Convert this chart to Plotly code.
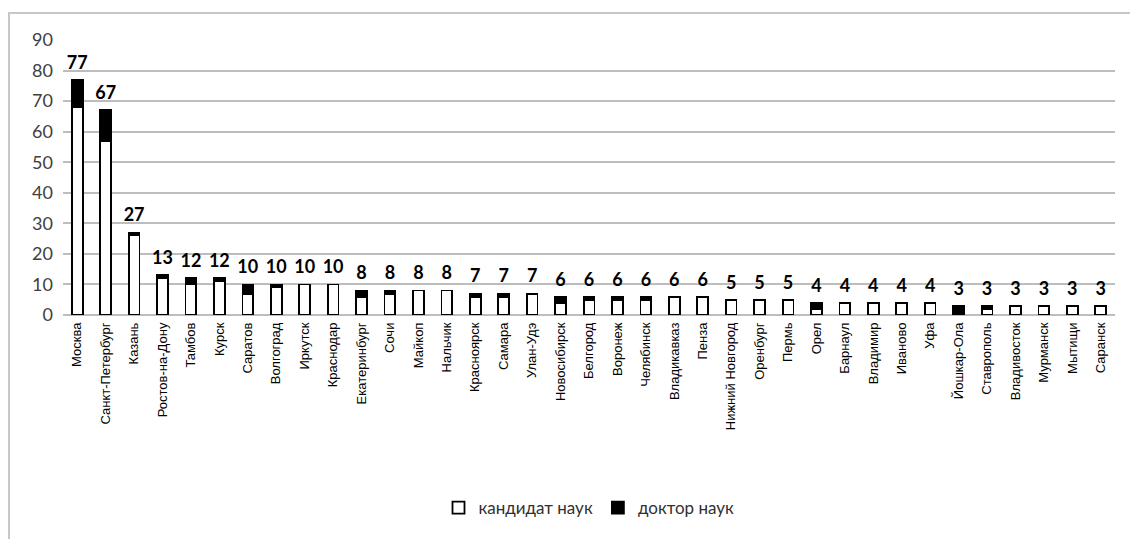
import plotly.graph_objects as go

cities = ["Москва", "Санкт-Петербург", "Казань", "Ростов-на-Дону", "Тамбов", "Курск",
          "Саратов", "Волгоград", "Иркутск", "Краснодар", "Екатеринбург", "Сочи",
          "Майкоп", "Нальчик", "Красноярск", "Самара", "Улан-Удэ", "Новосибирск",
          "Белгород", "Воронеж", "Челябинск", "Владикавказ", "Пенза", "Нижний Новгород",
          "Оренбург", "Пермь", "Орел", "Барнаул", "Владимир", "Иваново", "Уфа",
          "Йошкар-Ола", "Ставрополь", "Владивосток", "Мурманск", "Мытищи", "Саранск"]
candidates = [68, 57, 26, 12, 10, 11, 7, 9, 10, 10, 6, 7, 8, 8, 6, 6, 7, 4,
              5, 5, 5, 6, 6, 5, 5, 5, 2, 4, 4, 4, 4, 0, 2, 3, 3, 3, 3]
doctors = [9, 10, 1, 1, 2, 1, 3, 1, 0, 0, 2, 1, 0, 0, 1, 1, 0, 2,
           1, 1, 1, 0, 0, 0, 0, 0, 2, 0, 0, 0, 0, 3, 1, 0, 0, 0, 0]
totals = [c + d for c, d in zip(candidates, doctors)]
y_ticks = [0, 10, 20, 30, 40, 50, 60, 70, 80, 90]

main_font = "Lato, 'Open Sans', sans-serif"
axis_font = "'Liberation Sans', Arial, sans-serif"

W, H = 1130, 539
ML, MR, MT, MB = 63, 15, 40, 224
PW, PH = W - ML - MR, H - MT - MB

fig = go.Figure()
fig.add_trace(go.Bar(
    x=cities, y=candidates, name="кандидат наук",
    marker=dict(color="white", line=dict(color="black", width=1.8)),
))
fig.add_trace(go.Bar(
    x=cities, y=doctors, name="доктор наук",
    marker=dict(color="black", line=dict(color="black", width=1.8)),
))
# total value above each stacked column; the invisible marker keeps a small gap
fig.add_trace(go.Scatter(
    x=cities, y=totals, mode="markers+text", text=[str(t) for t in totals],
    marker=dict(size=9, opacity=0),
    textposition="top center", showlegend=False, hoverinfo="skip",
    textfont=dict(family=main_font, size=18, color="black", weight="bold"),
))

fig.update_layout(
    barmode="stack",
    bargap=0.62,
    width=W, height=H,
    margin=dict(l=ML, r=MR, t=MT, b=MB, autoexpand=False),
    paper_bgcolor="white",
    plot_bgcolor="white",
    font=dict(family=main_font, color="#404040"),
    xaxis=dict(
        range=[-0.5, len(cities) - 0.5],
        tickangle=-90, tickfont=dict(family=axis_font, size=13, color="black"),
        showgrid=False, showline=False, ticks="", ticklabelstandoff=4,
    ),
    yaxis=dict(
        range=[0, 90], tickvals=y_ticks, showgrid=True, gridcolor="#bdbdbd",
        gridwidth=1.5, zeroline=True, zerolinecolor="#bdbdbd", zerolinewidth=1.5,
        tickfont=dict(size=18, color="#404040"), ticks="", ticklabelstandoff=9,
    ),
    legend=dict(
        orientation="h", x=0.5, xanchor="center",
        yref="container", y=1 - 508 / H, yanchor="middle",
        font=dict(size=17, color="#303030"), traceorder="normal",
        itemwidth=30,
    ),
    shapes=[dict(
        type="rect", xref="paper", yref="paper",
        x0=(9 - ML) / PW, x1=(W + 10 - ML) / PW,
        y0=-(MB + 10) / PH, y1=1 + (MT - 13) / PH,
        line=dict(color="#c8c8c8", width=2), fillcolor="rgba(0,0,0,0)", layer="below",
    )],
)

fig.write_html("out.html")
